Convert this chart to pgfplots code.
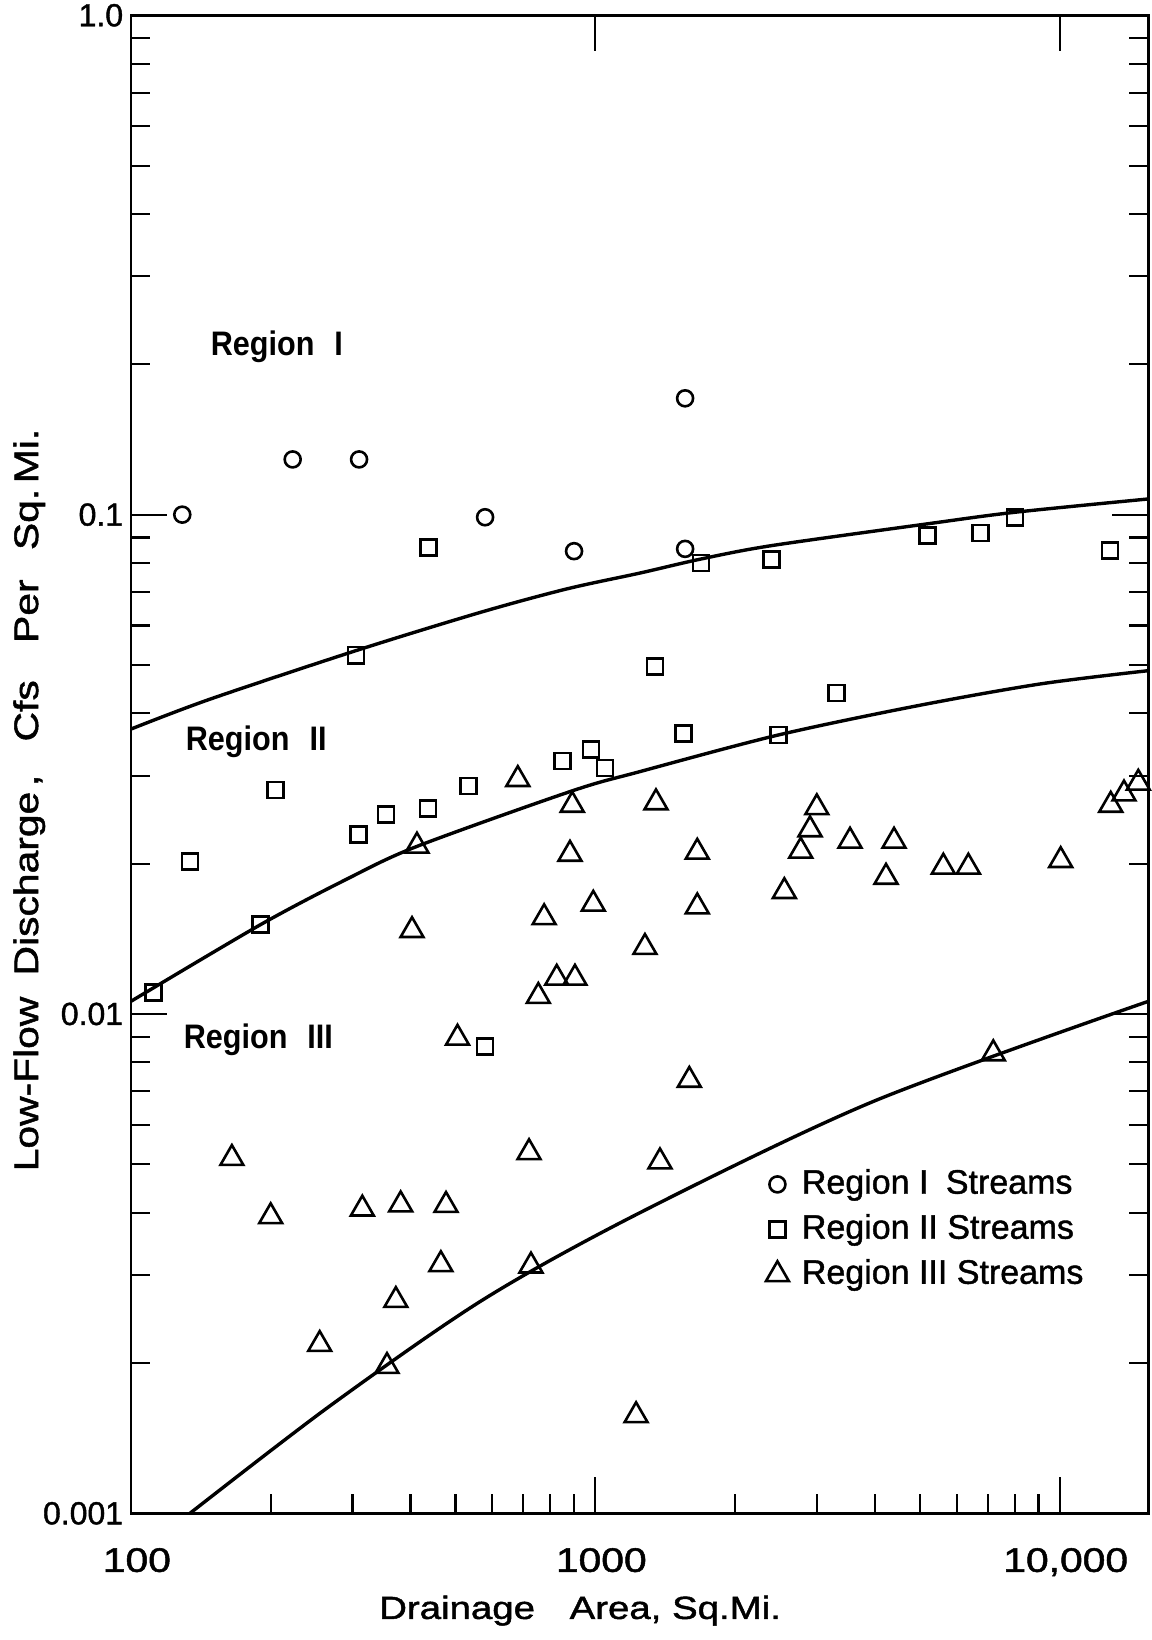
\documentclass[border=0pt]{standalone}
\usepackage{fontspec}
\setmainfont{Liberation Sans}[FakeBold=1.2]
\newfontfamily\wide[FakeStretch=1.2,FakeBold=1.5]{Liberation Sans}
\newfontfamily\regfont[FakeStretch=0.9]{Liberation Sans}
\usepackage{pgfplots}
\usepackage{pgfplotstable}
\pgfplotsset{compat=1.18}

\pgfplotstableread{
x y
129 0.100
223 0.129
310 0.129
579 0.0988
900 0.0845
1561 0.171
1561 0.0854
}\regionone

\pgfplotstableread{
x y
437 0.0860
305 0.0523
205 0.0281
134 0.0202
309 0.0229
354 0.0251
436 0.0258
533 0.0286
849 0.0321
979 0.0339
1049 0.0311
1689 0.0800
2398 0.0812
5186 0.0908
6759 0.0918
8011 0.0988
12834 0.0847
1345 0.0497
3311 0.0439
1547 0.0365
2477 0.0362
190 0.01509
111.7 0.01104
579 0.0086
}\regiontwo

\pgfplotstableread{
x y
681 0.0295
892 0.0262
882 0.0209
413 0.0217
1351 0.0265
2999 0.0259
2900 0.0234
2769 0.0212
3536 0.0222
4398 0.0222
1658 0.0211
10049 0.0203
12880 0.0262
13754 0.0276
14765 0.0290
4227 0.0188
5616 0.0197
6358 0.0197
1658 0.0164
2553 0.0176
1279 0.0136
1594 0.00737
1378 0.00506
7194 0.00833
403 0.0147
776 0.0156
990 0.0166
826 0.0118
904 0.0118
754 0.01085
505 0.00895
165 0.00514
200 0.00393
315 0.00407
381 0.00415
477 0.00414
465 0.00315
372 0.00267
720 0.00528
727 0.00313
255 0.00218
356 0.00197
1224 0.00157
}\regionthree

\pgfplotstableread{
x y
100 0.0372
148 0.0427
305 0.0534
565 0.0637
868 0.0710
1248 0.0764
1689 0.0815
2398 0.0867
5171 0.0958
8011 0.1011
15520 0.1075
}\curveone

\pgfplotstableread{
x y
100 0.0106
190 0.01509
291.5 0.01862
412.6 0.02165
892 0.02798
1248 0.03058
2477 0.0362
4921 0.0414
9071 0.0458
15520 0.0487
}\curvetwo

\pgfplotstableread{
x y
134 0.001
268 0.00164
574 0.00268
1248 0.0040
3968 0.00668
15520 0.0106
}\curvethree

\begin{document}
\begin{tikzpicture}
\begin{axis}[
  scale only axis,
  width=254.35pt, height=374.5pt,
  xmode=log, ymode=log,
  xmin=100, xmax=15520, ymin=0.001, ymax=1,
  axis line style={line width=0.65pt},
  tick align=inside,
  xtick pos=bottom, ytick pos=both,
  xtick={100,1000,10000},
  xticklabels={100,1000,{10,000}},
  minor xtick={200,300,400,500,600,700,800,900,2000,3000,4000,5000,6000,7000,8000,9000},
  ytick={0.001,0.01,0.1,1},
  yticklabels={0.001,0.01,0.1,1.0},
  minor ytick={0.002,0.003,0.004,0.005,0.006,0.007,0.008,0.009,0.02,0.03,0.04,0.05,0.06,0.07,0.08,0.09,0.2,0.3,0.4,0.5,0.6,0.7,0.8,0.9},
  major tick length=9pt,
  minor tick length=4.75pt,
  every tick/.style={line width=0.55pt, black},
  xticklabel style={font=\wide\fontsize{8.5}{9}\selectfont, inner sep=0pt, yshift=-8.5pt, xshift=1.5pt},
  yticklabel style={font=\fontsize{8}{9}\selectfont, inner sep=0pt, xshift=-1.75pt},
  xlabel={\wide\fontsize{8}{9}\selectfont Drainage\hspace{6pt} Area, Sq.Mi.},
  xlabel style={at={(axis description cs:0.4415,-0.0705)}, anchor=base},
  ylabel={\wide\fontsize{8.5}{10}\selectfont Low-Flow\hspace{2.5pt} Discharge\,,\hspace{5.5pt} Cfs\hspace{6.5pt} Per\hspace{4.5pt} Sq.\,Mi.},
  ylabel style={at={(axis description cs:-0.0913,0.4762)}, anchor=base},
  legend image code/.code={\draw[mark repeat=2,mark phase=2,#1] plot coordinates {(0pt,0pt) (3pt,0pt) (6pt,0pt)};},
  legend style={draw=none, fill=none, at={(0.6242,0.2298)}, anchor=north west,
    inner sep=0pt, outer sep=0pt, row sep=3.6pt, column sep=3.25pt,
    font=\fontsize{8.5}{10}\selectfont, nodes={inner sep=0pt}},
  legend cell align=left,
]
\addplot[forget plot, smooth, line width=0.85pt, black] table {\curveone};
\addplot[forget plot, smooth, line width=0.85pt, black] table {\curvetwo};
\addplot[forget plot, smooth, line width=0.85pt, black] table {\curvethree};

\addplot[only marks, black, mark=o, mark size=2pt, mark options={line width=0.65pt, fill=white}] table {\regionone};
\addlegendentry{Region I\hspace{2pt} Streams}
\addplot[only marks, black, mark=square, mark size=2pt, mark options={line width=0.65pt, fill=white}] table {\regiontwo};
\addlegendentry{Region II Streams}
\addplot[only marks, black, mark=triangle, mark size=3.3pt, mark options={line width=0.65pt, fill=white}] table {\regionthree};
\addlegendentry{Region III Streams}

\draw[line width=0.55pt] (axis cs:1000,1) -- ++(0pt,-9pt);
\draw[line width=0.55pt] (axis cs:10000,1) -- ++(0pt,-9pt);

\node[anchor=base west, inner sep=0pt, font=\regfont\bfseries\fontsize{8.5}{10}\selectfont] at (rel axis cs:0.0777,0.7732) {Region\hspace{5pt}I};
\node[anchor=base west, inner sep=0pt, font=\regfont\bfseries\fontsize{8.5}{10}\selectfont] at (rel axis cs:0.0532,0.5095) {Region\hspace{5pt}II};
\node[anchor=base west, inner sep=0pt, font=\regfont\bfseries\fontsize{8.5}{10}\selectfont] at (rel axis cs:0.0512,0.3106) {Region\hspace{5pt}III};
\end{axis}
\pgfresetboundingbox
\path ([shift={(-32.725pt,-31.675pt)}]current axis.south west) rectangle ([shift={(0.675pt,3.825pt)}]current axis.north east);
\end{tikzpicture}
\end{document}
